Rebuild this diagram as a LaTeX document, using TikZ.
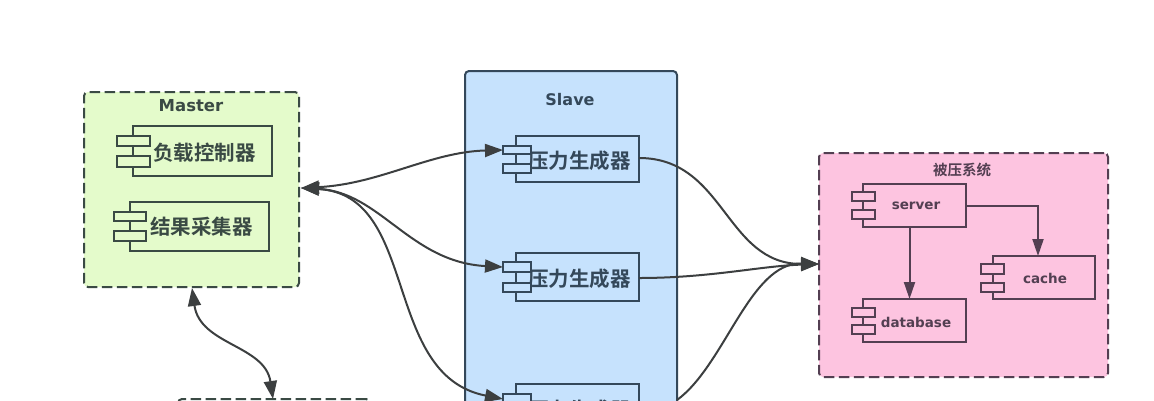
\documentclass[tikz,border=0pt]{standalone}
\usepackage{fontspec}
\setmainfont{DejaVu Sans}
\newfontfamily\cjk{Noto Sans CJK SC}[BoldFont={* Bold}]
\usetikzlibrary{arrows.meta}
\definecolor{ink}{HTML}{3A4A44}
\definecolor{inkb}{HTML}{34485A}
\definecolor{inkp}{HTML}{533F52}
\definecolor{wirec}{HTML}{3C3F40}
\definecolor{gfill}{HTML}{E4FBCB}
\definecolor{bfill}{HTML}{C6E2FD}
\definecolor{pfill}{HTML}{FDC4E0}
\tikzset{
  x=1pt,y=-1pt,
  wire/.style={draw=wirec,line width=2pt,-{Triangle[length=18pt,width=13pt,fill=wirec]}},
  both/.style={draw=wirec,line width=2pt,{Triangle[length=18pt,width=13pt,fill=wirec]}-{Triangle[length=18pt,width=13pt,fill=wirec]}},
  inner wire/.style={draw=inkp,line width=2pt,-{Triangle[length=17pt,width=11pt,fill=inkp]}},
  group/.style={draw=#1,line width=2pt,rounded corners=4pt,dash pattern=on 10.5pt off 4.5pt,outer sep=0pt},
  compbox/.style={draw=#1,line width=2pt,outer sep=0pt},
  label/.style={inner sep=0pt,anchor=center},
}
\newcommand{\component}[6]{% name, x0, y0, x1, y1, colour
  \node[compbox=#6,minimum width=#4pt-#2pt,minimum height=#5pt-#3pt,inner sep=0pt,anchor=north west] (#1) at (#2,#3) {};
}
\newcommand{\plugs}[8]{% x0, x1, y1a, y1b, y2a, y2b, colour, fill
  \draw[compbox=#7,fill=#8] (#1,#3) rectangle (#2,#4);
  \draw[compbox=#7,fill=#8] (#1,#5) rectangle (#2,#6);
}
\begin{document}
\begin{tikzpicture}
\useasboundingbox (0,0) rectangle (1154,400);
\clip (0,0) rectangle (1154,400);
\fill[white] (0,0) rectangle (1154,400);
% groups
\node[group=ink,fill=gfill,minimum width=215pt,minimum height=195pt,inner sep=0pt,anchor=north west] (master) at (84,92) {};
\node[draw=inkb,line width=2pt,rounded corners=4pt,outer sep=0pt,fill=bfill,minimum width=212pt,minimum height=360pt,inner sep=0pt,anchor=north west] (slave) at (465,71) {};
\node[group=inkp,fill=pfill,minimum width=289pt,minimum height=224pt,inner sep=0pt,anchor=north west] (target) at (819,153) {};
\node[group=ink,fill=white,minimum width=192pt,minimum height=60pt,inner sep=0pt,anchor=north west] (agg) at (178,399) {};
\node[label,font=\bfseries\fontsize{16.5}{18}\selectfont,text=ink] (tm) at (191,106) {Master};
\node[label,font=\bfseries\fontsize{16}{18}\selectfont,text=inkb] (ts) at (570,100) {Slave};
\node[label,font=\cjk\bfseries\fontsize{14.5}{16}\selectfont,text=inkp] (tt) at (962,170) {被压系统};
% master components
\component{a1}{133}{126}{272}{176}{ink}
\plugs{117}{150}{136}{146}{156}{167}{ink}{gfill}
\node[label,font=\cjk\bfseries\fontsize{20.5}{22}\selectfont,text=ink] (a1t) at (204.5,152.5) {负载控制器};
\component{a2}{130}{202}{269}{251}{ink}
\plugs{114}{146}{212}{221}{231}{241}{ink}{gfill}
\node[label,font=\cjk\bfseries\fontsize{20.5}{22}\selectfont,text=ink] (a2t) at (201.5,227) {结果采集器};
% slave components (plugs lie over the first character)
\component{s1}{516}{136}{639}{182}{inkb}
\node[label,font=\cjk\bfseries\fontsize{20.5}{22}\selectfont,text=inkb] (s1t) at (579.5,161) {压力生成器};
\plugs{503}{531}{146}{154}{164}{173}{inkb}{bfill}
\component{s2}{516}{253}{639}{301}{inkb}
\node[label,font=\cjk\bfseries\fontsize{20.5}{22}\selectfont,text=inkb] (s2t) at (579.5,279) {压力生成器};
\plugs{503}{531}{262}{272}{283}{292}{inkb}{bfill}
\component{s3}{516}{384}{639}{432}{inkb}
\node[label,font=\cjk\bfseries\fontsize{20.5}{22}\selectfont,text=inkb] (s3t) at (579.5,410) {压力生成器};
\plugs{503}{531}{394}{403}{414}{423}{inkb}{bfill}
% target components
\component{srv}{863}{184}{966}{227}{inkp}
\plugs{852}{875}{192}{201}{210}{219}{inkp}{pfill}
\node[label,font=\bfseries\fontsize{13.5}{15}\selectfont,text=inkp] (srvt) at (916,206) {server};
\component{db}{863}{299}{966}{342}{inkp}
\plugs{852}{875}{308}{317}{325}{334}{inkp}{pfill}
\node[label,font=\bfseries\fontsize{13.5}{15}\selectfont,text=inkp] (dbt) at (916,322) {database};
\component{ca}{993}{256}{1095}{299}{inkp}
\plugs{981}{1004}{264}{274}{283}{292}{inkp}{pfill}
\node[label,font=\bfseries\fontsize{13.5}{15}\selectfont,text=inkp] (cat) at (1045,278) {cache};
% connectors
\coordinate (mr) at (301,188);
\coordinate (s1in) at (503,150);
\coordinate (s2in) at (503,267);
\coordinate (s3in) at (503,399);
\coordinate (tin) at (819,264);
\coordinate (s1out) at (639,158);
\coordinate (s2out) at (639,278);
\coordinate (s3out) at (677,400);
\coordinate (mb) at (192,288);
\coordinate (at) at (273,399);
\draw[both] (mr) .. controls (380,184) and (430,152) .. (s1in);
\draw[both] (mr) .. controls (380,192) and (410,262) .. (s2in);
\draw[both] (mr) .. controls (420,195) and (381,375) .. (s3in);
\draw[wire] (s1out) .. controls (725,158) and (725,264) .. (tin);
\draw[wire] (s2out) .. controls (710,278) and (760,266) .. (tin);
\draw[wire] (s3out) .. controls (725,365) and (750,262) .. (tin);
\draw[both] (mb) .. controls (200,345) and (265,345) .. (at);
\draw[inner wire] (srv.east) -| ([xshift=-6pt]ca.north);
\draw[inner wire] ([xshift=-5pt]srv.south) -- ([xshift=-5pt]db.north);
\end{tikzpicture}
\end{document}
